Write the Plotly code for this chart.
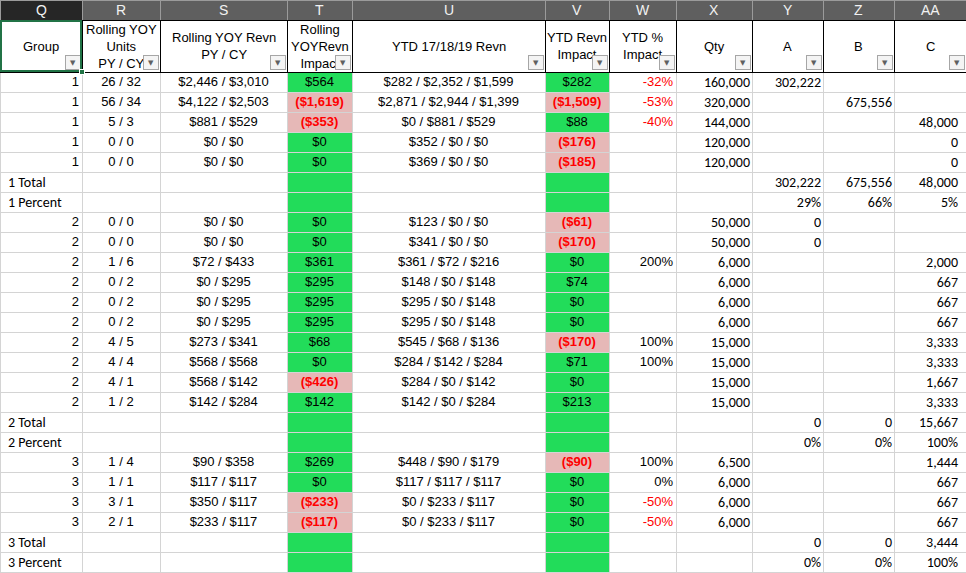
import plotly.graph_objects as go

# ---------------------------------------
#  sheet layout: columns Q..AA
# ---------------------------------------
letters = ["Q", "R", "S", "T", "U", "V", "W", "X", "Y", "Z", "AA"]
widths = [82, 78, 127, 65, 193, 64, 67, 76, 71, 71, 72]
headers = ["Group", "Rolling YOY<br>Units<br>PY / CY", "Rolling YOY Revn<br>PY / CY",
           "Rolling<br>YOYRevn<br>Impact", "YTD 17/18/19 Revn", "YTD Revn<br>Impact",
           "YTD %<br>Impact", "Qty", "A", "B", "C"]

# ---------------------------------------
#  data (one entry per sheet row)
# ---------------------------------------
group = [1, 1, 1, 1, 1, "1 Total", "1 Percent", 2, 2, 2, 2, 2, 2, 2, 2, 2, 2,
         "2 Total", "2 Percent", 3, 3, 3, 3, "3 Total", "3 Percent"]
units_py = [26, 56, 5, 0, 0, None, None, 0, 0, 1, 0, 0, 0, 4, 4, 4, 1, None, None, 1, 1, 3, 2, None, None]
units_cy = [32, 34, 3, 0, 0, None, None, 0, 0, 6, 2, 2, 2, 5, 4, 1, 2, None, None, 4, 1, 1, 1, None, None]
revn_py = [2446, 4122, 881, 0, 0, None, None, 0, 0, 72, 0, 0, 0, 273, 568, 568, 142, None, None,
           90, 117, 350, 233, None, None]
revn_cy = [3010, 2503, 529, 0, 0, None, None, 0, 0, 433, 295, 295, 295, 341, 568, 142, 284, None, None,
           358, 117, 117, 117, None, None]
roll_impact = [564, -1619, -353, 0, 0, None, None, 0, 0, 361, 295, 295, 295, 68, 0, -426, 142, None, None,
               269, 0, -233, -117, None, None]
ytd17 = [282, 2871, 0, 352, 369, None, None, 123, 341, 361, 148, 295, 295, 545, 284, 284, 142, None, None,
         448, 117, 0, 0, None, None]
ytd18 = [2352, 2944, 881, 0, 0, None, None, 0, 0, 72, 0, 0, 0, 68, 142, 0, 0, None, None,
         90, 117, 233, 233, None, None]
ytd19 = [1599, 1399, 529, 0, 0, None, None, 0, 0, 216, 148, 148, 148, 136, 284, 142, 284, None, None,
         179, 117, 117, 117, None, None]
ytd_impact = [282, -1509, 88, -176, -185, None, None, -61, -170, 0, 74, 0, 0, -170, 71, 0, 213, None, None,
              -90, 0, 0, 0, None, None]
ytd_pct = [-32, -53, -40, None, None, None, None, None, None, 200, None, None, None, 100, 100, None, None,
           None, None, 100, 0, -50, -50, None, None]
qty = [160000, 320000, 144000, 120000, 120000, None, None, 50000, 50000, 6000, 6000, 6000, 6000,
       15000, 15000, 15000, 15000, None, None, 6500, 6000, 6000, 6000, None, None]
col_a = [302222, None, None, None, None, 302222, 29, 0, 0, None, None, None, None, None, None, None, None,
         0, 0, None, None, None, None, 0, 0]
col_b = [None, 675556, None, None, None, 675556, 66, None, None, None, None, None, None, None, None, None, None,
         0, 0, None, None, None, None, 0, 0]
col_c = [None, None, 48000, 0, 0, 48000, 5, None, None, 2000, 667, 667, 667, 3333, 3333, 1667, 3333,
         15667, 100, 1444, 667, 667, 667, 3444, 100]

n = len(group)
W, H = 966, 573
LETTER_H, HEAD_H, ROW_H = 20, 52, 20
GREEN, PINK, RED = "#22dc5a", "#e6b8b7", "#ff0000"
CLEAR = "rgba(0,0,0,0)"
ARIAL = "Liberation Sans, Arial"
CALI = "Carlito, Lato"


def money(v):
    if v is None:
        return ""
    return f"${v:,}" if v >= 0 else f"(${-v:,})"


def pair(a, b, fmt=str):
    return "" if a is None else f"{fmt(a)} / {fmt(b)}"


def pos_only(vals):
    return [money(v) if (v is not None and v >= 0) else "" for v in vals]


def neg_only(vals):
    return [money(v) if (v is not None and v < 0) else "" for v in vals]


pct_rows = [isinstance(g, str) and g.endswith("Percent") for g in group]


def count(vals):
    return ["" if v is None else (f"{v}%" if p else f"{v:,}") for v, p in zip(vals, pct_rows)]


def sign_fill(vals):
    return [PINK if (v is not None and v < 0) else GREEN for v in vals]


blank = [""] * n
white = ["white"] * n
black = ["black"] * n

q_nums = ["" if isinstance(g, str) else str(g) for g in group]
q_labels = [g if isinstance(g, str) else "" for g in group]
units_txt = [pair(a, b) for a, b in zip(units_py, units_cy)]
revn_txt = [pair(a, b, money) for a, b in zip(revn_py, revn_cy)]
ytd_txt = ["" if a is None else f"{money(a)} / {money(b)} / {money(c)}" for a, b, c in zip(ytd17, ytd18, ytd19)]
pct_txt = ["" if v is None else f"{v}%" for v in ytd_pct]
qty_txt = ["" if v is None else f"{v:,}" for v in qty]
pct_colors = [RED if (v is not None and v < 0) else "black" for v in ytd_pct]

fills = [white, white, white, sign_fill(roll_impact), white, sign_fill(ytd_impact),
         white, white, white, white, white]

edges = [sum(widths[:i + 1]) for i in range(len(widths))]
# Excel keeps right-aligned numbers close to the cell border; plotly pads 8px
nudge = [5, 0, 0, 0, 0, 0, 5, 6, 6, 6, 6]
right_edges = [min(e + s, W) for e, s in zip(edges, nudge)]

top_split = 1 - LETTER_H / H
lift = 4 / H  # text sits a little higher in the sheet than in a plotly cell


def text_layer(col_edges, values, align, family, size, color, weight="normal"):
    w = [b - a for a, b in zip([0] + col_edges[:-1], col_edges)]
    return go.Table(
        domain=dict(x=[0, 1], y=[lift, top_split + lift]),
        columnwidth=w,
        header=dict(values=[""] * len(w), height=HEAD_H, fill_color=CLEAR,
                    line=dict(color=CLEAR, width=0)),
        cells=dict(values=values, height=ROW_H, align=align, fill_color=CLEAR,
                   line=dict(color=CLEAR, width=0),
                   font=dict(family=family, size=size, color=color, weight=weight)),
    )


fig = go.Figure()

# column letter bar
fig.add_trace(go.Table(
    domain=dict(x=[0, 1], y=[top_split, 1]),
    columnwidth=widths,
    header=dict(values=[""] * len(letters), height=LETTER_H,
                fill_color=["#262626"] + ["#5f5f5f"] * 10,
                line=dict(color="#9b9b9b", width=1)),
    cells=dict(values=[[] for _ in letters]),
))

# grid: fills and borders
fig.add_trace(go.Table(
    domain=dict(x=[0, 1], y=[0, top_split]),
    columnwidth=widths,
    header=dict(values=[""] * len(letters), height=HEAD_H, fill_color="white",
                line=dict(color="black", width=1)),
    cells=dict(values=[blank] * len(letters), height=ROW_H, fill_color=fills,
               line=dict(color="#d4d4d4", width=1)),
))

# centred text columns R..V
fig.add_trace(text_layer(edges,
                         [blank, units_txt, revn_txt, pos_only(roll_impact), ytd_txt,
                          pos_only(ytd_impact)] + [blank] * 5,
                         "center", ARIAL, 13, "black"))
# negative impacts, bold red
fig.add_trace(text_layer(edges,
                         [blank, blank, blank, neg_only(roll_impact), blank,
                          neg_only(ytd_impact)] + [blank] * 5,
                         "center", ARIAL, 13, RED, weight="bold"))
# right-aligned numbers
fig.add_trace(text_layer(right_edges,
                         [q_nums] + [blank] * 5 + [pct_txt, qty_txt, count(col_a), count(col_b), count(col_c)],
                         "right", [ARIAL] * 7 + [CALI] * 4, [13] * 7 + [14] * 4,
                         [black] * 6 + [pct_colors] + [black] * 4))
# subtotal labels in the Group column
fig.add_trace(text_layer(edges, [q_labels] + [blank] * 10, "left", CALI, 14, "black"))

# column letters
for i, letter in enumerate(letters):
    fig.add_annotation(x=(edges[i] - widths[i] / 2) / W, y=1 - LETTER_H / 2 / H,
                       xref="paper", yref="paper", text=letter, showarrow=False,
                       xanchor="center", yanchor="middle",
                       font=dict(family=ARIAL, size=14, color="#f2f2f2"))

# header labels + filter buttons
head_mid = 1 - (LETTER_H + HEAD_H / 2) / H
for i, label in enumerate(headers):
    fig.add_annotation(x=(edges[i] - widths[i] / 2) / W, y=head_mid, xref="paper", yref="paper",
                       text=label, showarrow=False, xanchor="center", yanchor="middle",
                       font=dict(family=ARIAL, size=13, color="black"))
for i in range(len(headers)):
    fig.add_annotation(x=(edges[i] - 1) / W, y=1 - (LETTER_H + HEAD_H - 2) / H,
                       xref="paper", yref="paper", text="▼", showarrow=False,
                       xanchor="right", yanchor="bottom", width=14, height=13,
                       bgcolor="#f4f4f4", bordercolor="#a6a6a6", borderwidth=1, borderpad=0,
                       font=dict(family="DejaVu Sans", size=7, color="#606060"))

# selected cell outline (Q header)
fig.add_annotation(x=0, y=1 - LETTER_H / H, xref="paper", yref="paper", text=" ",
                   showarrow=False, xanchor="left", yanchor="top",
                   width=widths[0] - 4, height=HEAD_H - 4,
                   bordercolor="#217346", borderwidth=2, borderpad=0)
fig.add_annotation(x=widths[0] / W, y=1 - (LETTER_H + HEAD_H) / H, xref="paper", yref="paper",
                   text=" ", showarrow=False, xanchor="center", yanchor="middle",
                   width=4, height=4, bgcolor="#217346", bordercolor="white",
                   borderwidth=1, borderpad=0, font=dict(size=2))

fig.update_layout(width=W, height=H, margin=dict(l=0, r=0, t=0, b=0),
                  paper_bgcolor="white", showlegend=False)

fig.write_html("out.html", config={"displayModeBar": False},
               post_script="document.body.style.margin='0';"
                           "document.body.style.overflow='hidden';")
